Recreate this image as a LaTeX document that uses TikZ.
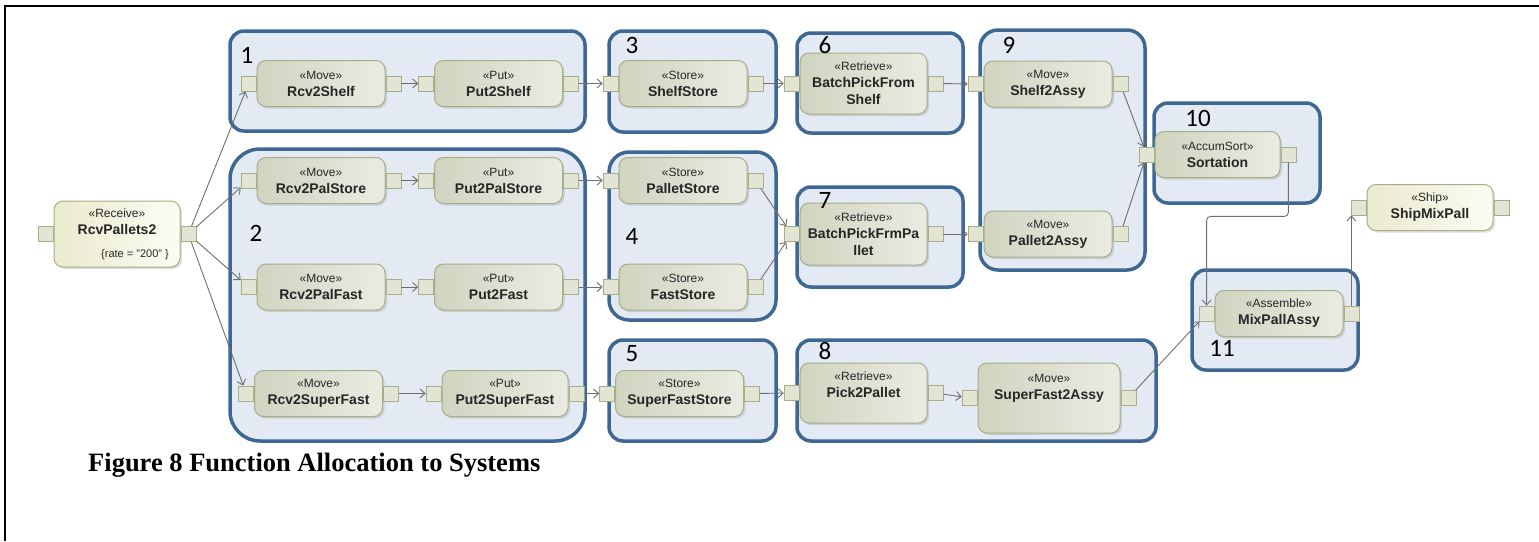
\documentclass[tikz,border=0pt]{standalone}
\usepackage{fontspec}
\setmainfont{Liberation Sans}
\newfontfamily\numfont{Carlito}
\newfontfamily\capfont{Liberation Serif}
\usepackage{xcolor}
\definecolor{GroupFill}{RGB}{227,234,244}
\definecolor{GroupLine}{RGB}{62,103,148}
\definecolor{ActLeft}{RGB}{208,212,192}
\definecolor{ActRight}{RGB}{234,236,226}
\definecolor{ActLine}{RGB}{168,173,133}
\definecolor{RcvLeft}{RGB}{234,234,206}
\definecolor{RcvRight}{RGB}{252,252,244}
\definecolor{PortFill}{RGB}{226,229,212}
\definecolor{FlowGray}{RGB}{110,110,110}
\usetikzlibrary{arrows.meta,shadows}
\newcommand{\stereo}[1]{{\mdseries\fontsize{12}{17}\selectfont «#1»}}

\begin{document}
\begin{tikzpicture}[x=1pt,y=-1pt,
  grp/.style={draw=GroupLine,fill=GroupFill,line width=3.5pt,rounded corners=14pt},
  num/.style={font=\numfont\fontsize{25}{25}\selectfont,inner sep=0pt},
  port/.style={draw=ActLine,fill=PortFill,line width=0.8pt,minimum size=15pt,inner sep=0pt},
  act/.style={draw=ActLine,left color=ActLeft,right color=ActRight,line width=1pt,rounded corners=9pt,
    drop shadow={shadow xshift=2pt,shadow yshift=-2pt,opacity=0.25},
    minimum width=128pt,minimum height=46pt,inner sep=2pt,align=center,text=black!85,
    font=\fontsize{14}{17}\selectfont\bfseries,
    append after command={\pgfextra{\let\actnode=\tikzlastnode}
      node[port,anchor=east] (\actnode-in) at (\actnode.west) {}
      node[port,anchor=west] (\actnode-out) at (\actnode.east) {}}},
  light/.style={act,left color=RcvLeft,right color=RcvRight},
  flow/.style={draw=FlowGray,line width=0.9pt,-{Straight Barb[length=5pt,width=9pt]}}]

\useasboundingbox (0,0) rectangle (1539,541);
\draw[line width=2pt] (5,541) -- (5,6) -- (1539,6);

% allocation groups
\draw[grp] (230,31) rectangle (585,131);
\draw[grp,rounded corners=30pt] (230,149) rectangle (585,441);
\draw[grp] (609,31) rectangle (776,132);
\draw[grp,rounded corners=20pt] (609,152) rectangle (776,320);
\draw[grp] (609,340) rectangle (776,441);
\draw[grp] (797,33) rectangle (963,133);
\draw[grp] (797,187) rectangle (963,287);
\draw[grp] (797,340) rectangle (1156,441);
\draw[grp,rounded corners=18pt] (980,30) rectangle (1145,270);
\draw[grp] (1154,103) rectangle (1320,203);
\draw[grp] (1192,270) rectangle (1358,370);

% actions
\node[light,minimum width=126pt,minimum height=66pt] (rcv) at (117,234)
  {\stereo{Receive}\\RcvPallets2\\[6pt]\hspace*{36pt}{\mdseries\fontsize{11}{17}\selectfont\{rate = "200" \}}};
\node[act] (r2s) at (321,83.5) {\stereo{Move}\\Rcv2Shelf};
\node[act] (p2s) at (498.5,83.5) {\stereo{Put}\\Put2Shelf};
\node[act] (r2ps) at (321,180.5) {\stereo{Move}\\Rcv2PalStore};
\node[act] (p2ps) at (498.5,180.5) {\stereo{Put}\\Put2PalStore};
\node[act] (r2pf) at (321,287) {\stereo{Move}\\Rcv2PalFast};
\node[act] (p2f) at (498.5,287) {\stereo{Put}\\Put2Fast};
\node[act] (r2sf) at (318.5,393.5) {\stereo{Move}\\Rcv2SuperFast};
\node[act,minimum width=126pt] (p2sf) at (505,393.5) {\stereo{Put}\\Put2SuperFast};
\node[act] (shelf) at (683,83.5) {\stereo{Store}\\ShelfStore};
\node[act] (pallet) at (683,180.5) {\stereo{Store}\\PalletStore};
\node[act] (fast) at (683,287) {\stereo{Store}\\FastStore};
\node[act] (sfast) at (679.5,393.5) {\stereo{Store}\\SuperFastStore};
\node[act,minimum width=127pt,minimum height=61pt] (bpfs) at (863.5,83.5) {\stereo{Retrieve}\\BatchPickFrom\\Shelf};
\node[act,minimum width=127pt,minimum height=62pt] (bpfp) at (863.5,234) {\stereo{Retrieve}\\BatchPickFrmPa\\llet};
\node[act,minimum width=127pt,minimum height=60pt] (p2p) at (863.5,393) {\stereo{Retrieve}\\Pick2Pallet\\~};
\node[act,minimum width=142pt,minimum height=70pt] (sf2a) at (1049,398) {\stereo{Move}\\SuperFast2Assy\\[6pt]~};
\node[act] (s2a) at (1048,84) {\stereo{Move}\\Shelf2Assy};
\node[act] (p2a) at (1048,234) {\stereo{Move}\\Pallet2Assy};
\node[act,minimum width=125pt] (sort) at (1217.5,154.5) {\stereo{AccumSort}\\Sortation};
\node[act] (mix) at (1279,313.5) {\stereo{Assemble}\\MixPallAssy};
\node[light,minimum width=126pt] (ship) at (1430,207.5) {\stereo{Ship}\\ShipMixPall};

% group numbers
\node[num] (n1) at (247,55) {1};
\node[num] (n2) at (256,233) {2};
\node[num] (n3) at (632,45) {3};
\node[num] (n4) at (632,236) {4};
\node[num] (n5) at (632,354) {5};
\node[num] (n6) at (825,45) {6};
\node[num] (n7) at (825,200) {7};
\node[num] (n8) at (825,351) {8};
\node[num] (n9) at (1009,45) {9};
\node[num] (n10) at (1198,118) {10};
\node[num] (n11) at (1222,348) {11};

% flows
\draw[flow] (rcv-out) -- (r2s-in);
\draw[flow] (rcv-out) -- (r2ps-in);
\draw[flow] (rcv-out) -- (r2pf-in);
\draw[flow] (rcv-out) -- (r2sf-in);
\draw[flow] (r2s-out) -- (p2s-in);
\draw[flow] (r2ps-out) -- (p2ps-in);
\draw[flow] (r2pf-out) -- (p2f-in);
\draw[flow] (r2sf-out) -- (p2sf-in);
\draw[flow] (p2s-out) -- (shelf-in);
\draw[flow] (p2ps-out) -- (pallet-in);
\draw[flow] (p2f-out) -- (fast-in);
\draw[flow] (p2sf-out) -- (sfast-in);
\draw[flow] (shelf-out) -- (bpfs-in);
\draw[flow] (pallet-out) -- (bpfp-in);
\draw[flow] (fast-out) -- (bpfp-in);
\draw[flow] (sfast-out) -- (p2p-in);
\draw[flow] (bpfs-out) -- (s2a-in);
\draw[flow] (bpfp-out) -- (p2a-in);
\draw[flow] (p2p-out) -- (sf2a-in);
\draw[flow] (s2a-out) -- (sort-in);
\draw[flow] (p2a-out) -- (sort-in);
\draw[flow] (sf2a-out) -- (mix-in);
\draw[flow,rounded corners=4pt] (sort-out.south) -- ++(0,54) -| (mix-in.north);
\draw[flow] (mix-out.north) -- (mix-out.north |- ship-in.south);

\node[anchor=base west,inner sep=0pt,font=\capfont\bfseries\fontsize{26.5}{30}\selectfont] (cap) at (88,471)
  {Figure 8 Function Allocation to Systems};
\end{tikzpicture}
\end{document}
